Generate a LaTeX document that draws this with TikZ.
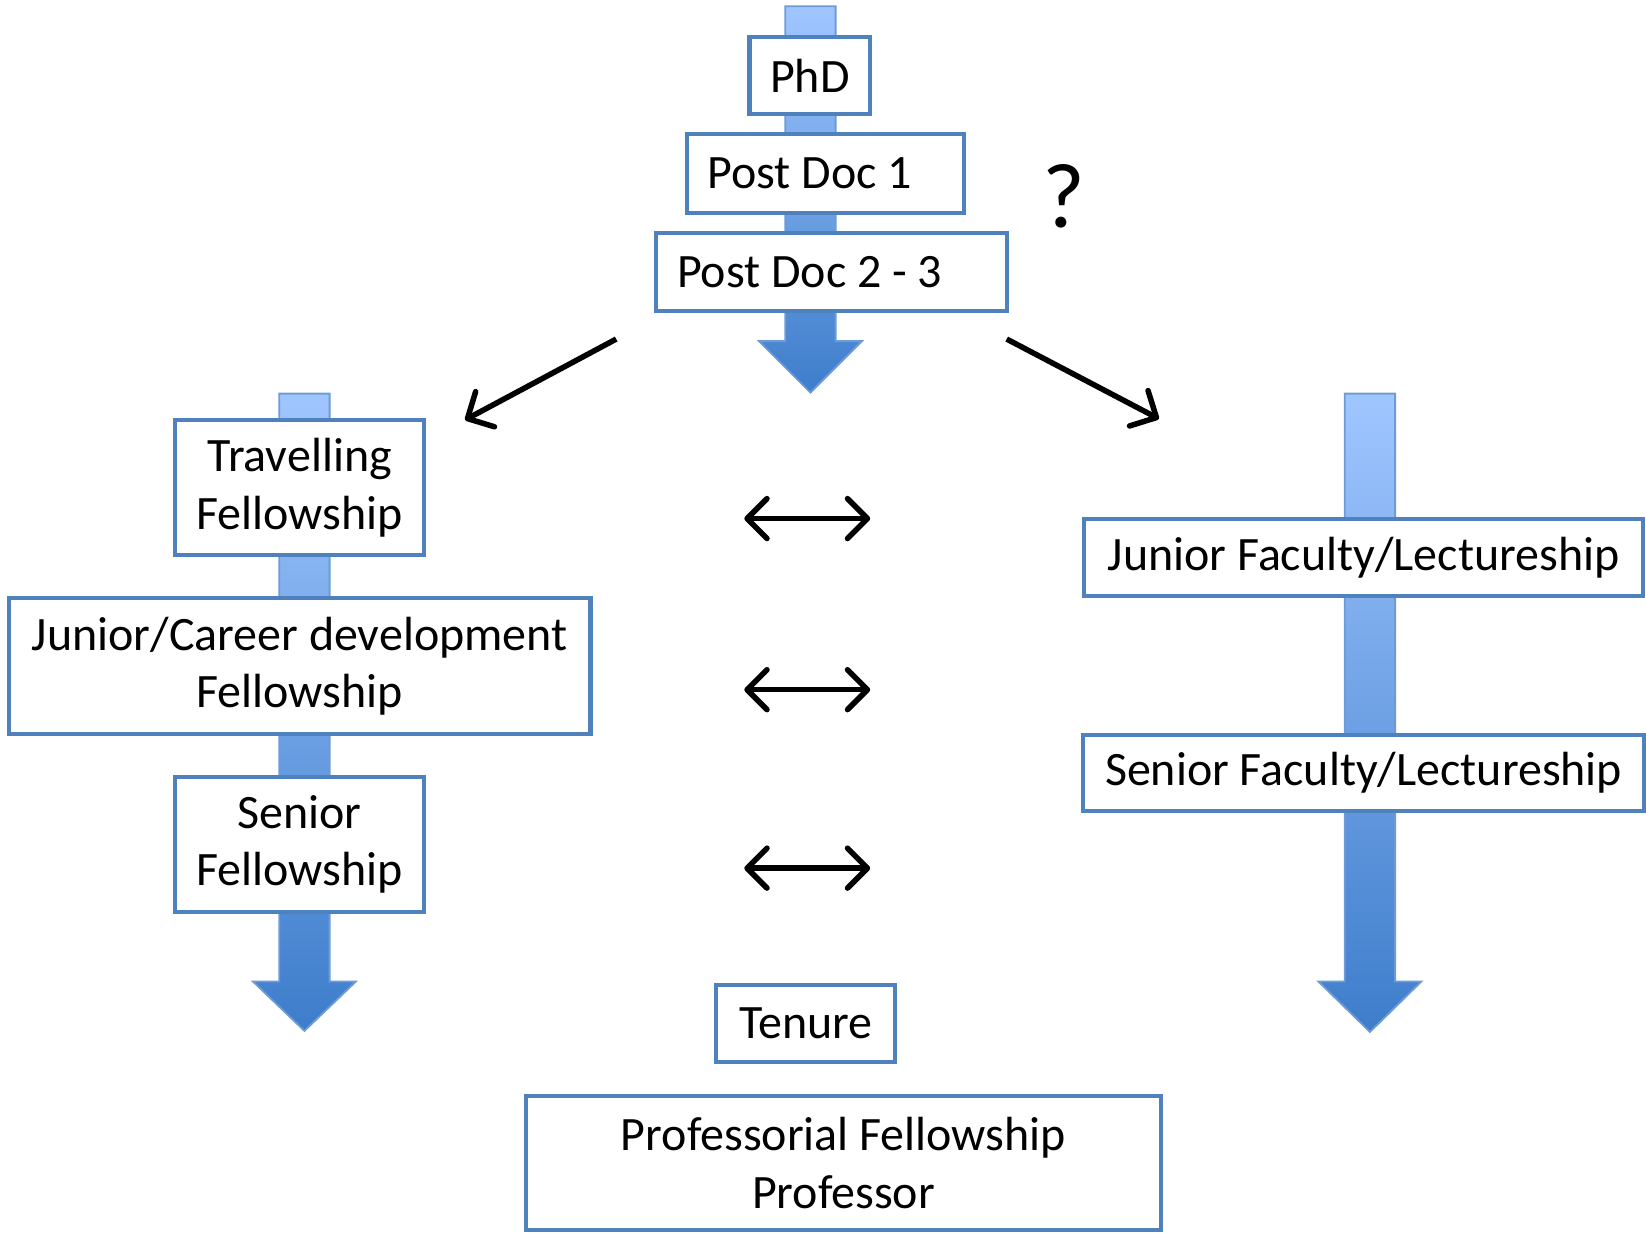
\documentclass[tikz,border=0pt]{standalone}
\usepackage{fontspec}
\setmainfont{Carlito}
\usepackage{tikz}
\usetikzlibrary{arrows.meta,positioning,calc}
\definecolor{boxblue}{RGB}{79,129,189}
\definecolor{stemtop}{RGB}{160,198,255}
\definecolor{stemlow}{RGB}{62,125,203}
\definecolor{stemedge}{RGB}{110,155,215}
% shaded down arrow: x centre, top, start of head, tip
\newcommand*{\careerstem}[4]{%
  \shade[stemfill] (#1-24,#2) -- (#1+24,#2) -- (#1+24,#3) -- (#1+49,#3)
    -- (#1,#4) -- (#1-49,#3) -- (#1-24,#3) -- cycle;}

\begin{document}
\begin{tikzpicture}[x=0.1mm, y=-0.1mm, >={Straight Barb[length=1.9mm,width=3.8mm,round]}, node distance=17mm]
    \tikzset{stemfill/.style={top color=stemtop, bottom color=stemlow, draw=stemedge, line width=0.5pt},
             stage/.style={draw=boxblue, fill=white, line width=1.1pt, align=center, inner sep=0pt,
                           font=\fontsize{13}{15.6}\selectfont},
             postdoc/.style={stage, align=flush left, inner xsep=2mm, inner ysep=0pt},
             link/.style={<->, line width=1.5pt},
             branch/.style={->, line width=1.5pt}}
    \useasboundingbox (0,0) rectangle (1568,1174);

    \careerstem{772}{6}{325}{374}
    \careerstem{290}{375}{935}{982}
    \careerstem{1305}{375}{935}{983}

    \node[stage, minimum width=11.5mm, minimum height=7.4mm] (phd) at (771.5,72) {PhD};
    \node[postdoc, text width=22.4mm, minimum height=7.5mm] (pd1) at (786,165.5) {Post Doc 1};
    \node[postdoc, text width=29.4mm, minimum height=7.4mm] (pd2) at (792,259) {Post Doc 2 - 3};
    \node[font=\fontsize{25}{29}\selectfont] (ask) at (1013,187) {?};

    \node[stage, minimum width=23.7mm, minimum height=12.9mm] (trav) at (285.5,464.5) {Travelling\\Fellowship};
    \node[stage, minimum width=55.4mm, minimum height=12.9mm] (jcd)  [below of=trav] {Junior/Career development\\Fellowship};
    \node[stage, minimum width=23.7mm, minimum height=12.9mm] (senf) [below of=jcd]  {Senior\\Fellowship};

    \node[stage, minimum width=53.2mm, minimum height=7.4mm] (jfac) at (1299,531) {Junior Faculty/Lectureship};
    \node[stage, minimum width=53.5mm, minimum height=7.3mm] (sfac) [below of=jfac, node distance=20.55mm] {Senior Faculty/Lectureship};

    \node[stage, minimum width=17.1mm, minimum height=7.4mm] (tenure) at (767.5,975) {Tenure};
    \node[stage, minimum width=60.5mm, minimum height=12.8mm] (prof) at (803.5,1108) {Professorial Fellowship\\Professor};

    \coordinate (bl) at (587,323);
    \coordinate (blend) at (443,400);
    \coordinate (br) at (959,323);
    \coordinate (brend) at (1104,399);
    \draw[branch] (bl) -- (blend);
    \draw[branch] (br) -- (brend);

    \foreach \y/\n in {494/a, 657/b, 827/c} {
      \coordinate (eq\n l) at (709,\y);
      \coordinate (eq\n r) at (829,\y);
      \draw[link] (eq\n l) -- (eq\n r);
    }
\end{tikzpicture}
\end{document}
